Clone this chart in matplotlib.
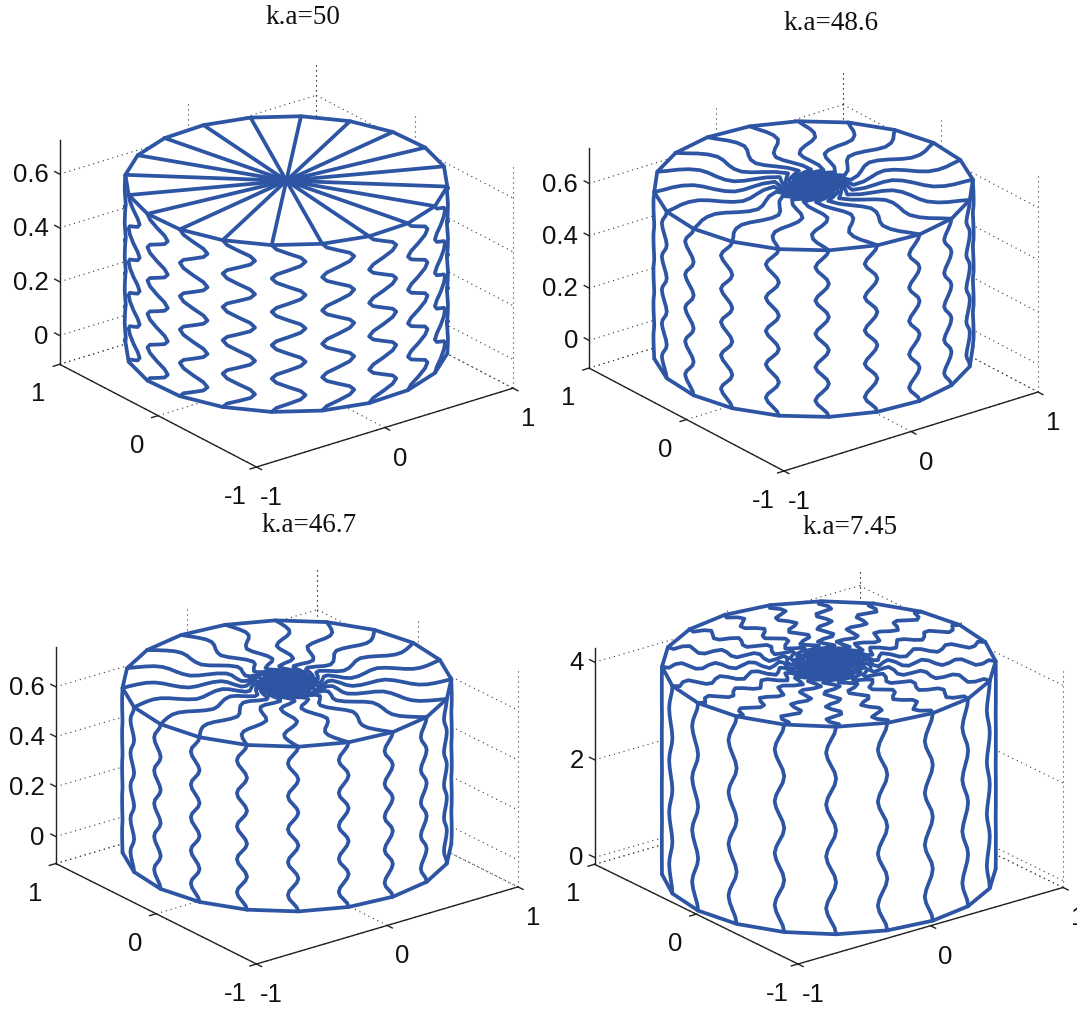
import numpy as np
import matplotlib
matplotlib.use('Agg')
import matplotlib.pyplot as plt
from mpl_toolkits.mplot3d import proj3d
from mpl_toolkits.mplot3d.art3d import Poly3DCollection

W, H = 1077, 1012
BLUE = '#2d55a4'
AZIM = -127.5
ELEVS = [23.6, 23.9, 22.6, 22.1]

TITLES = ['k.a=50', 'k.a=48.6', 'k.a=46.7', 'k.a=7.45']
TITLE_POS = [(303, 17), (831, 23), (309, 526), (850, 527)]

Z_TICKS = [[0, 0.2, 0.4, 0.6], [0, 0.2, 0.4, 0.6], [0, 0.2, 0.4, 0.6], [0, 2, 4]]
Z_LABELS = [['0', '0.2', '0.4', '0.6'], ['0', '0.2', '0.4', '0.6'], ['0', '0.2', '0.4', '0.6'], ['0', '2', '4']]
Z_LIMS = [(-0.107, 0.726), (-0.106, 0.736), (-0.108, 0.76), (-0.14, 4.29)]
XY_TICKS = [-1, 0, 1]
Z_BOTTOM = [0, 0, 0, -0.05]
Z_TOP = [0.62, 0.637, 0.66, 4.2]
MESH_ANGLES = [-180, -162, -144, -126, -108, -90, -72, -54, -36, -18, 0, 18, 36, 54, 72, 90, 108, 126, 144, 162]
MESH_TURN = [-78.7, -68.0, -69.5, -71.0]

# angle offset (rad) of a meridian down the side wall
SIDE_1 = [0, .03, .105, .18, .21, .18, .105, .03, 0, .03, .105, .18, .21, .18, .105, .03, 0, .03, .105, .18, .21,
          .18, .105, .03, 0, .03, .105, .18, .21, .18, .105, .03, 0, .03, .105, .18, .21, .18, .105, .03, 0]
SIDE_2 = [0, -.012, -.04, -.07, -.085, -.07, -.04, -.012, 0, -.012, -.04, -.07, -.085, -.07, -.04, -.012, 0, -.012,
          -.04, -.07, -.085, -.07, -.04, -.012, 0, -.012, -.04, -.07, -.085, -.07, -.04, -.012, 0, -.012, -.04, -.07,
          -.085, -.07, -.04, -.012, 0]
SIDE_3 = [0, -.01, -.032, -.055, -.064, -.055, -.032, -.01, 0, -.01, -.032, -.055, -.064, -.055, -.032, -.01, 0, -.01,
          -.032, -.055, -.064, -.055, -.032, -.01, 0, -.01, -.032, -.055, -.064, -.055, -.032, -.01, 0, -.01, -.032,
          -.055, -.064, -.055, -.032, -.01, 0]
SIDE_4 = [0, -.009, -.03, -.05, -.06, -.05, -.03, -.009, 0, -.009, -.03, -.05, -.06, -.05, -.03, -.009, 0, -.009, -.03,
          -.05, -.06, -.05, -.03, -.009, 0, -.009, -.03, -.05, -.06, -.05, -.03, -.009, 0]
SIDES = [SIDE_1, SIDE_2, SIDE_3, SIDE_4]

# radius and angle offset (rad) along a spoke on the top, rim to centre
TOP_R_1 = [1, 0]
TOP_A_1 = [0, 0]
TOP_R_2 = [1, .94, .88, .82, .75, .69, .62, .56, .5, .44, .38, .32, .25, .21, .18, .15, .12, .10, .08, .06, .045, .03,
           .015, 0]
TOP_A_2 = [0, -.03, -.07, -.10, -.11, -.08, -.01, .05, .08, .04, -.06, -.2, -.35, -.1, .3, .6, .2, -.7, -1.2, -.2,
           .9, 1.2, -.8, 0]
TOP_R_3 = [1, .95, .9, .85, .8, .75, .7, .65, .6, .55, .5, .45, .4, .36, .32, .28, .25, .22, .2, .18, .16, .14, .12,
           .1, .085, .07, .055, .04, .025, .01, 0]
TOP_A_3 = [0, -.03, -.06, -.085, -.09, -.07, -.03, .01, .035, .01, -.05, -.12, -.165, -.13, -.02, .1, .08, -.15, -.35,
           -.2, .3, .7, .2, -.9, -1.3, -.2, 1.3, 1.6, -.9, 0, 0]
TOP_R_4 = [1, .96, .92, .88, .84, .8, .76, .72, .68, .64, .6, .56, .52, .48, .44, .4, .36, .33, .3, .27, .25, .22, .2,
           .18, .16, .14, .12, .1, .085, .07, .055, .04, .03, .02, .01, 0]
TOP_A_4 = [0, .02, -.04, -.06, -.01, .05, .05, -.02, -.07, -.03, .05, .08, 0, -.1, -.09, .04, .14, .05, -.16, -.12,
           .2, .35, 0, -.5, -.4, .6, .9, -.2, -1.3, -.6, 1.3, 1.5, -.6, -1.6, .8, 0]
TOP_R = [TOP_R_1, TOP_R_2, TOP_R_3, TOP_R_4]
TOP_A = [TOP_A_1, TOP_A_2, TOP_A_3, TOP_A_4]

# pixel places of the box corners: left, bottom, right
CORNERS = [((58, 366), (256.5, 468), (513, 388)),
           ((583, 370), (784, 472), (1038, 390)),
           ((55, 865), (256.5, 965), (518, 887)),
           ((593, 865), (798, 965), (1063, 888))]
Z_SCALE = [270, 265, 250, 49]  # pixels per z unit

fig = plt.figure(figsize=(W / 100, H / 100), dpi=100, facecolor='white')


def fit_axes(ax, corners, zlo):
    # move the square 3D axes so the box corners land on their pixel places
    left, bottom, right = corners
    for _ in range(3):
        ax.apply_aspect()
        M = ax.get_proj()
        xb, yb, _z = proj3d.proj_transform(-1, -1, zlo, M)
        xr, yr, _z = proj3d.proj_transform(1, -1, zlo, M)
        pb = ax.transData.transform((xb, yb))
        pr = ax.transData.transform((xr, yr))
        pos = ax.get_position()
        size = pos.width * W * (right[0] - bottom[0]) / (pr[0] - pb[0])
        ax.set_position([pos.x0, pos.y0, size / W, size / H])
        ax.apply_aspect()
        pb = ax.transData.transform((xb, yb))
        pos = ax.get_position()
        ax.set_position([(pos.x0 * W + bottom[0] - pb[0]) / W, (pos.y0 * H + (H - bottom[1]) - pb[1]) / H,
                         size / W, size / H])


def put_label(ax, x, y, z, text, dx, dy, ha='center'):
    x2, y2, _ = proj3d.proj_transform(x, y, z, ax.get_proj())
    ax.annotate(text, (x2, y2), xytext=(dx, dy), textcoords='offset pixels', ha=ha, va='center',
                fontsize=18.5, family='Liberation Sans', color='#111111', annotation_clip=False)


for i in range(4):
    left, bottom, right = CORNERS[i]
    zlo, zhi = Z_LIMS[i]
    elev = ELEVS[i]
    unit = (right[0] - left[0]) / (2 * (abs(np.cos(np.radians(AZIM))) + abs(np.sin(np.radians(AZIM)))))
    ax = fig.add_axes([0.1, 0.1, 0.5, 0.5 * W / H], projection='3d', proj_type='ortho', computed_zorder=False)
    ax.view_init(elev=elev, azim=AZIM)
    ax.set_xlim(-1, 1, view_margin=0)
    ax.set_ylim(-1, 1, view_margin=0)
    ax.set_zlim(zlo, zhi, view_margin=0)
    ax.set_box_aspect((2 * unit, 2 * unit, (zhi - zlo) * Z_SCALE[i] / np.cos(np.radians(elev))))
    ax.set_axis_off()
    ax.patch.set_visible(False)
    fit_axes(ax, CORNERS[i], zlo)

    # dotted grid on the two back walls and the floor
    dots = dict(color='#333333', lw=0.8, ls=(0, (1, 3.5)), zorder=1)
    for z in list(Z_TICKS[i]) + [zlo]:
        ax.plot([-1, 1], [1, 1], [z, z], **dots)
        ax.plot([1, 1], [1, -1], [z, z], **dots)
    for t in XY_TICKS:
        ax.plot([t, t], [1, 1], [zlo, zhi], **dots)
        ax.plot([1, 1], [t, t], [zlo, zhi], **dots)
        ax.plot([t, t], [-1, 1], [zlo, zlo], **dots)
        ax.plot([-1, 1], [t, t], [zlo, zlo], **dots)

    # solid axes and ticks
    solid = dict(color='#222222', lw=1.0, zorder=1.5)
    ax.plot([-1, -1], [1, 1], [zlo, zhi], **solid)
    ax.plot([-1, 1], [-1, -1], [zlo, zlo], **solid)
    ax.plot([-1, -1], [-1, 1], [zlo, zlo], **solid)
    for t in XY_TICKS:
        ax.plot([t, t], [-1, -1.05], [zlo, zlo], **solid)
        ax.plot([-1, -1.05], [t, t], [zlo, zlo], **solid)
    for z in Z_TICKS[i]:
        ax.plot([-1, -1], [1, 1.05], [z, z], **solid)

    # white body hides the grid behind the cylinder
    h, base = Z_TOP[i], Z_BOTTOM[i]
    deg = np.array(MESH_ANGLES) + MESH_TURN[i]
    angles = np.radians(deg)
    rim_x, rim_y = np.cos(angles), np.sin(angles)
    faces = [list(zip(rim_x, rim_y, [h] * len(rim_x)))]
    for k in range(len(angles)):
        n = (k + 1) % len(angles)
        faces.append([(rim_x[k], rim_y[k], base), (rim_x[n], rim_y[n], base), (rim_x[n], rim_y[n], h), (rim_x[k], rim_y[k], h)])
    ax.add_collection3d(Poly3DCollection(faces, facecolor='white', edgecolor='white', linewidth=1, zorder=2))

    mesh = dict(color=BLUE, lw=2.7, solid_joinstyle='round', solid_capstyle='round', zorder=3)
    # rim of the top, closed
    ax.plot(np.append(rim_x, rim_x[0]), np.append(rim_y, rim_y[0]), [h] * (len(rim_x) + 1), **mesh)

    # only the half of the wall facing the viewer is drawn, in order round the front
    phi = (deg + 37.5 + 180) % 360 - 180
    front = [k for k in range(len(phi)) if phi[k] > 174] + [k for k in np.argsort(phi) if phi[k] < 7]
    side = np.array(SIDES[i])
    z_line = np.linspace(h, base, len(side))
    ax.plot(rim_x[front], rim_y[front], [base] * len(front), **mesh)
    for k in front:
        ax.plot(np.cos(angles[k] + side), np.sin(angles[k] + side), z_line, **mesh)

    # spokes on the top
    r = np.array(TOP_R[i])
    off = np.array(TOP_A[i])
    for k in range(len(angles)):
        ax.plot(r * np.cos(angles[k] + off), r * np.sin(angles[k] + off), [h] * len(r), **mesh)

    # tick labels
    for z, lab in zip(Z_TICKS[i], Z_LABELS[i]):
        put_label(ax, -1, 1, z, lab, -11, 0, ha='right')
    for t, lab in zip(XY_TICKS, ['-1', '0', '1']):
        put_label(ax, t, -1, zlo, lab, 15, -30)
        put_label(ax, -1, t, zlo, lab, -21, -29)

    fig.text(TITLE_POS[i][0] / W, 1 - TITLE_POS[i][1] / H, TITLES[i], family='Liberation Serif', fontsize=19.5,
             ha='center', va='center', color='#111111')

fig.savefig('out.png', dpi=100)
